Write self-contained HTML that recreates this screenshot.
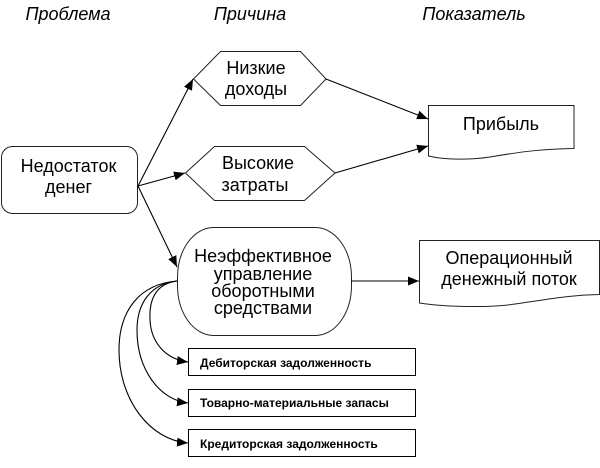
<!DOCTYPE html>
<html><head><meta charset="utf-8">
<style>
html,body{margin:0;padding:0;background:#fff}
svg{display:block}
text{font-family:"Liberation Sans",sans-serif;fill:#000;text-anchor:middle}
.b{font-size:18px}
.i{font-size:18px;font-style:italic}
.s{font-size:12px;font-weight:bold;text-anchor:start}
</style></head>
<body>
<svg width="600" height="468" viewBox="0 0 600 468" xmlns="http://www.w3.org/2000/svg">
<defs>
<marker id="a" markerUnits="userSpaceOnUse" markerWidth="14" markerHeight="10" refX="11" refY="4.500" orient="auto"><path d="M0 0L11 4.500L0 9Z" fill="#000"/></marker>
</defs>
<g fill="#fff" stroke="#222" stroke-width="1">
<rect x="1.500" y="146.500" width="136" height="67" rx="11"/>
<path d="M193.500 79L220.500 51.500H300.500L326 79L300.500 105.500H220.500Z"/>
<path d="M185.500 173L214.500 146.500H304.500L335 173L304.500 200.500H214.500Z"/>
<rect x="177.500" y="227.500" width="174" height="108" rx="36" ry="50"/>
<path d="M428.500 105.500H574V148.500C545 149 525 151 490 157C470 160 445 160 428.500 156Z"/>
<path d="M419.500 240.500H599.500V294.500C570 295 550 299 515 304C490 308 445 307 419.500 303Z"/>
<rect x="188.500" y="348.500" width="227" height="27" stroke="#000"/>
<rect x="188.500" y="389.500" width="227" height="27" stroke="#000"/>
<rect x="188.500" y="429.500" width="227" height="27" stroke="#000"/>
</g>
<g fill="none" stroke="#000" stroke-width="1.100" marker-end="url(#a)">
<path d="M138 186L193 79"/>
<path d="M138 186L185 173"/>
<path d="M138 186L177 267"/>
<path d="M326 79L428 119"/>
<path d="M335 173L428 146"/>
<path d="M351 281L419 281"/>
<path d="M177 281C155 284 149 300 150 320C151 342 165 359 188 362"/>
<path d="M177 281C150 284 137 304 137 330C137 370 160 400 188 403"/>
<path d="M177 281C140 284 119 310 119 350C119 400 150 440 188 443"/>
</g>
<text class="i" x="68" y="20">Проблема</text>
<text class="i" x="250" y="20">Причина</text>
<text class="i" x="474" y="20">Показатель</text>
<text class="b" x="68.500" y="172">Недостаток</text>
<text class="b" x="68.500" y="193">денег</text>
<text class="b" x="256" y="74">Низкие</text>
<text class="b" x="256" y="95">доходы</text>
<text class="b" x="258" y="169">Высокие</text>
<text class="b" x="255" y="191">затраты</text>
<text class="b" x="263" y="262">Неэффективное</text>
<text class="b" x="263" y="280">управление</text>
<text class="b" x="263" y="297">оборотными</text>
<text class="b" x="263" y="314">средствами</text>
<text class="b" x="501" y="130">Прибыль</text>
<text class="b" x="509" y="264">Операционный</text>
<text class="b" x="509" y="285">денежный поток</text>
<text class="s" x="200" y="367">Дебиторская задолженность</text>
<text class="s" x="200" y="407">Товарно-материальные запасы</text>
<text class="s" x="200" y="448">Кредиторская задолженность</text>
</svg>
</body></html>
